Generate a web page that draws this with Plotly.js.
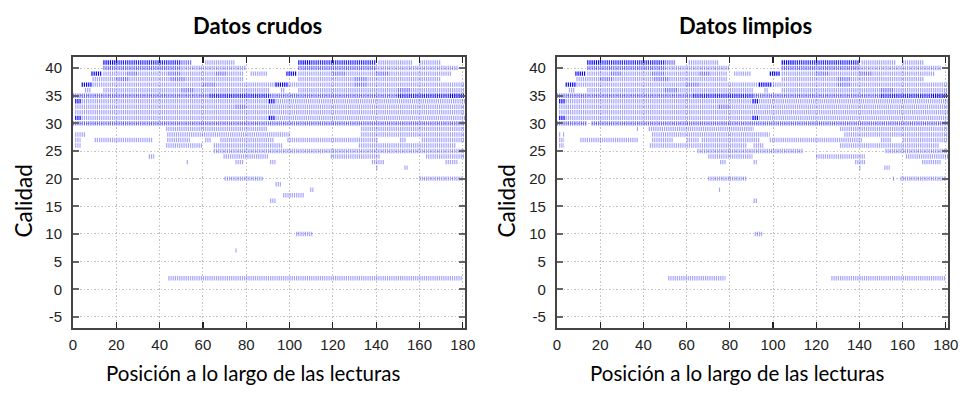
<!DOCTYPE html>
<html>
<head>
<meta charset="utf-8">
<script src="https://cdn.plot.ly/plotly-3.0.1.min.js"></script>
<style>
html,body{margin:0;padding:0;background:#fff;}
#chart{width:960px;height:394px;}
</style>
</head>
<body>
<div id="chart"></div>
<script>
// Panel titles and axis labels
const panelTitles = ["Datos crudos", "Datos limpios"];
const xAxisLabel = "Posición a lo largo de las lecturas";
const yAxisLabel = "Calidad";
const xTickValues = [0, 20, 40, 60, 80, 100, 120, 140, 160, 180];
const yTickValues = [-5, 0, 5, 10, 15, 20, 25, 30, 35, 40];

// Shade level -> opacity of the blue ticks
const shadeOpacity = {1: 0.36, 2: 0.55, 3: 0.85, 4: 1.0};

// Runs of ticks: [quality, first position, last position, shade level]
const rawSegments = [
  [41,14,20,4],[41,20,50,3],[41,50,55,2],[41,61,75,1],[41,104,110,4],[41,110,140,3],[41,141,157,1],[41,160,170,1],
  [40,14,50,2],[40,50,80,1],[40,104,140,2],[40,140,178,1],
  [39,8.5,13.5,4],[39,14,25,1],[39,25,30,2],[39,30,44,1],[39,44,50,2],[39,50,66,1],[39,66,71,2],[39,71,79,1],[39,82,90,1],
  [39,98.5,103.5,4],[39,104,120,1],[39,120,126,2],[39,126,140,1],[39,140,146,2],[39,146,175,1],
  [38,9,20,1],[38,20,26,2],[38,26,45,1],[38,45,52,2],[38,52,79,1],[38,104,130,1],[38,130,136,2],[38,136,170,1],
  [37,4,9,4],[37,9,60,1],[37,60,66,2],[37,66,93.5,1],[37,93.5,99,4],[37,99,130,1],[37,130,136,2],[37,136,181,1],
  [36,5.5,8.5,1],[36,14,50,1],[36,50,56,2],[36,56,91,1],[36,96,98,1],[36,104,150,1],[36,150,156,2],[36,156,181,1],
  [35,0,63,2],[35,63,91,3],[35,91,150,2],[35,150,174,3],[35,174,181,4],
  [34,1,4,4],[34,4,90.5,1],[34,90.5,93.5,4],[34,93.5,181,1],
  [33,1,75,1],[33,75,80,2],[33,80,181,1],
  [32,1,181,1],
  [31,1,4,4],[31,4,90.5,1],[31,90.5,93.5,4],[31,93.5,181,1],
  [30,0,181,2],
  [29,43,90,1],[29,133,181,1],
  [28,1,6,1],[28,43.5,100,1],[28,133,181,1],
  [27,1,3.5,1],[27,10,37,1],[27,43.5,54,1],[27,61,64,1],[27,68,93,1],[27,99,141,1],[27,151,154,1],[27,161,181,1],
  [26,1,3.5,1],[26,43,60,1],[26,65,97,1],[26,132,177,1],
  [25,65,181,1],
  [24,35,37.5,1],[24,69.5,90,1],[24,119,142,1],[24,163,181,1],
  [23,52.5,53.5,1],[23,75,79,1],[23,91,93.5,1],[23,138,144,1],[23,172,177.5,1],
  [22,140,141,1],[22,153,154.5,1],
  [20,70,88,1],[20,160,180,1],
  [19,93.5,96,1],[18,109.5,111,1],[17,97,107,1],[16,91,93.5,1],
  [10,103,110.5,1],[7,75,75.5,1],[2,44,180,1]
];

const cleanSegments = [
  [41,14,20,4],[41,20,50,3],[41,50,55,2],[41,61,75,1],[41,104,110,4],[41,110,140,3],[41,141,157,1],[41,160,170,1],
  [40,14,50,2],[40,50,80,1],[40,104,140,2],[40,140,178,1],
  [39,8.5,13.5,4],[39,14,25,1],[39,25,30,2],[39,30,44,1],[39,44,50,2],[39,50,66,1],[39,66,71,2],[39,71,79,1],[39,82,90,1],
  [39,98.5,103.5,4],[39,104,120,1],[39,120,126,2],[39,126,140,1],[39,140,146,2],[39,146,175,1],
  [38,9,20,1],[38,20,26,2],[38,26,45,1],[38,45,52,2],[38,52,79,1],[38,104,130,1],[38,130,136,2],[38,136,170,1],
  [37,4,9,4],[37,9,60,1],[37,60,66,2],[37,66,93.5,1],[37,93.5,99,4],[37,99,130,1],[37,130,136,2],[37,136,181,1],
  [36,5.5,8.5,1],[36,14,50,1],[36,50,56,2],[36,56,91,1],[36,96,98,1],[36,104,150,1],[36,150,156,2],[36,156,181,1],
  [35,0,63,2],[35,63,91,3],[35,91,150,2],[35,150,174,3],[35,174,181,4],
  [34,1,4,4],[34,4,90.5,1],[34,90.5,93.5,4],[34,93.5,181,1],
  [33,1,75,1],[33,75,80,2],[33,80,181,1],
  [32,1,181,1],
  [31,1,4,4],[31,4,90.5,1],[31,90.5,93.5,4],[31,93.5,181,1],
  [30,0,14,2],[30,16,181,2],
  [29,37,37.5,1],[29,42.5,91,1],[29,131,181,1],
  [28,1,1.5,1],[28,2.8,3.3,1],[28,44,98.5,1],[28,133,181,1],
  [27,1,3.3,1],[27,10.8,37.8,1],[27,44,54,1],[27,60,66,1],[27,67,94,1],[27,98.5,141.5,1],[27,150,155,1],[27,160,181,1],
  [26,1,3.3,1],[26,43,88,1],[26,91,95.5,1],[26,131,177,1],
  [25,65,114,1],[25,152,181,1],
  [24,70,90.5,1],[24,120,142.5,1],[24,161.5,181,1],
  [23,75.5,78.5,1],[23,91,92.5,1],[23,138,143,1],[23,169,178,1],
  [22,140,140.5,1],[22,151.5,154,1],
  [20,70,88,1],[20,155.5,156,1],[20,159,180,1],
  [18,75,75.5,1],[16,91,93,1],[10,91.5,95,1],
  [2,51.5,78,1],[2,127,180,1]
];

function buildTraces(segments, xa, ya) {
  const traces = [];
  [1, 2, 3, 4].forEach(function (level) {
    const xs = [], ys = [];
    segments.forEach(function (s) {
      if (s[3] === level) {
        xs.push(s[1], s[2], null);
        ys.push(s[0], s[0], null);
      }
    });
    traces.push({
      type: 'scatter', mode: 'lines', x: xs, y: ys,
      xaxis: xa, yaxis: ya, hoverinfo: 'skip', showlegend: false,
      connectgaps: false,
      line: {color: 'rgba(0,0,255,' + shadeOpacity[level] + ')', width: 4.4, dash: '1.2px,0.965px'}
    });
  });
  return traces;
}

const data = buildTraces(rawSegments, 'x', 'y').concat(buildTraces(cleanSegments, 'x2', 'y2'));

const tickFont = {family: 'Liberation Sans, Arial, sans-serif', size: 15, color: '#222'};
const labelFont = {family: 'Lato, Open Sans, sans-serif', size: 20.5, color: '#000'};
const sideFont = {family: 'Lato, Open Sans, sans-serif', size: 22.5, color: '#000'};
const headFont = {family: 'Lato, Open Sans, sans-serif', size: 22, color: '#000'};

function xAxis(domain, anchor) {
  return {
    domain: domain, anchor: anchor, range: [0, 181],
    tickmode: 'array', tickvals: xTickValues, ticktext: xTickValues.map(String),
    ticks: 'inside', ticklen: 6, tickwidth: 1.2, tickcolor: '#222',
    showline: true, linecolor: '#444', linewidth: 2, mirror: 'ticks',
    showgrid: true, gridcolor: '#c2c2c2', griddash: '1.5px,2px', gridwidth: 1,
    zeroline: false, tickfont: tickFont, ticklabelstandoff: 2
  };
}
function yAxis(domain, anchor) {
  return {
    domain: domain, anchor: anchor, range: [-7, 42],
    tickmode: 'array', tickvals: yTickValues, ticktext: yTickValues.map(String),
    ticks: 'inside', ticklen: 6, tickwidth: 2, tickcolor: '#666',
    showline: true, linecolor: '#444', linewidth: 2, mirror: 'ticks',
    showgrid: true, gridcolor: '#c2c2c2', griddash: '1.5px,2px', gridwidth: 1,
    zeroline: false, tickfont: tickFont, ticklabelstandoff: 6
  };
}

function textNote(text, x, y, font, angle) {
  return {text: text, xref: 'paper', yref: 'paper', x: x, y: y,
          xanchor: 'center', yanchor: 'middle', showarrow: false,
          textangle: angle || 0, font: font};
}

const layout = {
  width: 960, height: 394,
  margin: {l: 73, r: 12, t: 57, b: 66},
  paper_bgcolor: '#fff', plot_bgcolor: '#fff',
  showlegend: false,
  xaxis: xAxis([0, 0.448], 'y'),
  yaxis: yAxis([0, 1], 'x'),
  xaxis2: xAxis([0.5531, 1], 'y2'),
  yaxis2: yAxis([0, 1], 'x2'),
  annotations: [
    textNote('<b>' + panelTitles[0] + '</b>', 0.2114, 1.117, headFont),
    textNote('<b>' + panelTitles[1] + '</b>', 0.7680, 1.117, headFont),
    textNote(xAxisLabel, 0.2057, -0.166, labelFont),
    textNote(xAxisLabel, 0.7589, -0.166, labelFont),
    textNote(yAxisLabel, -0.0577, 0.4686, sideFont, -90),
    textNote(yAxisLabel, 0.4954, 0.4686, sideFont, -90)
  ]
};

Plotly.newPlot('chart', data, layout, {staticPlot: true, displayModeBar: false});
</script>
</body>
</html>
